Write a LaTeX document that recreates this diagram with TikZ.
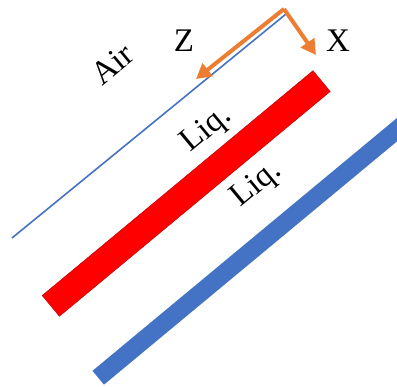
\documentclass[tikz,border=0pt]{standalone}
\usepackage{fontspec}
\setmainfont{Liberation Serif}
\usepackage{xcolor}
\usetikzlibrary{arrows.meta}
\definecolor{offblue}{HTML}{4472C4}
\definecolor{offorange}{HTML}{ED7D31}

\begin{document}
\begin{tikzpicture}[
  x=1pt, y=-1pt,
  txt/.style={font=\fontsize{33}{38}\selectfont, inner sep=0pt},
  lbl/.style={txt, rotate=39.7},
  bar/.style={rectangle, inner sep=0pt, minimum width=352pt, rotate=39.7},
  arr/.style={-{Triangle[length=15pt,width=16pt]}, line width=4pt, offorange}
]
\useasboundingbox (0,0) rectangle (397,387);
\clip (0,0) rectangle (397,387);
% interface and layers
\coordinate (a1) at (12,238);
\coordinate (a2) at (286,14);
\draw[offblue, line width=1.6pt] (a1) -- (a2);
\node[bar, fill=red, draw=red!70!black, line width=0.4pt, minimum height=27pt] (film) at (186.2,193.5) {};
\node[bar, fill=offblue, minimum width=400pt, minimum height=18pt] (wall) at (252.1,250.0) {};
% axes
\coordinate (o) at (284,9);
\coordinate (zt) at (196,79);
\coordinate (xt) at (316,55);
\draw[arr] (o) -- (xt);
\draw[arr] (o) -- (zt);
\node[txt] (z) at (184,41) {Z};
\node[txt] (x) at (338,41) {X};
% labels
\node[lbl] (air) at (112,64) {Air};
\node[lbl] (liq1) at (207,130) {Liq.};
\node[lbl] (liq2) at (257,185) {Liq.};
\end{tikzpicture}
\end{document}
